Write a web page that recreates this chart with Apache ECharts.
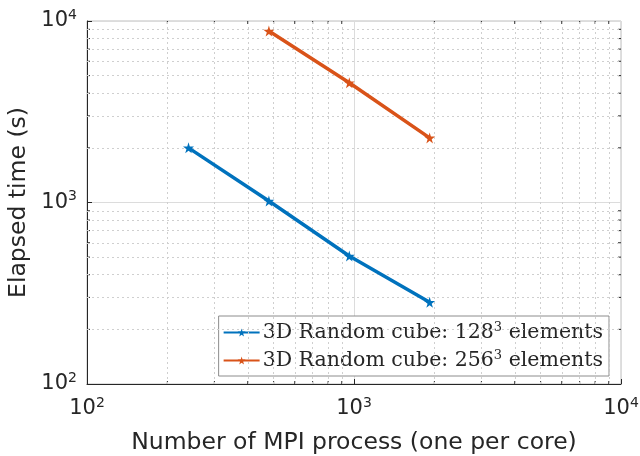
<!DOCTYPE html>
<html>
<head>
<meta charset="utf-8">
<script src="https://cdn.jsdelivr.net/npm/echarts@6/dist/echarts.min.js"></script>
<style>
  html, body { margin: 0; padding: 0; background: #fff; }
  #chart { width: 640px; height: 456px; }
</style>
</head>
<body>
<div id="chart"></div>
<script>
// MPI process counts and elapsed times (s)
const procs128 = [240, 480, 960, 1920];
const time128 = [2000, 1020, 507, 282];
const procs256 = [480, 960, 1920];
const time256 = [8800, 4570, 2270];

const seriesNames = ['3D Random cube: 128³ elements', '3D Random cube: 256³ elements'];
const seriesSizes = ['128', '256'];

// Minor grid positions (2..9 within each decade)
const minorX = [200, 300, 400, 500, 600, 700, 800, 900, 2000, 3000, 4000, 5000, 6000, 7000, 8000, 9000];
const minorY = [200, 300, 400, 500, 600, 700, 800, 900, 2000, 3000, 4000, 5000, 6000, 7000, 8000, 9000];

const AXIS_MIN = 100;
const AXIS_MAX = 10000;

const BLUE = '#0072BD';
const ORANGE = '#D95319';
const TEXT = '#262626';

const star = 'path://M50,0 L61,35 L98,35 L68,57 L79,91 L50,70 L21,91 L32,57 L2,35 L39,35 Z';

function powLabel(v) {
  const e = Math.round(Math.log10(v));
  return '{b|10}{s|' + e + '}';
}
const powRich = {
  b: { fontSize: 21, color: TEXT, fontFamily: 'DejaVu Sans' },
  s: { fontSize: 14, color: TEXT, fontFamily: 'DejaVu Sans', padding: [0, 0, 12, 0] }
};

// Short inward tick marks at the minor positions, on all four box edges
function minorTickItem(isX) {
  return function (params, api) {
    const v = api.value(0);
    const len = 3;
    const style = { stroke: TEXT, lineWidth: 1 };
    if (isX) {
      const b = api.coord([v, AXIS_MIN]);
      const t = api.coord([v, AXIS_MAX]);
      return { type: 'group', children: [
        { type: 'line', shape: { x1: b[0], y1: b[1], x2: b[0], y2: b[1] - len }, style },
        { type: 'line', shape: { x1: t[0], y1: t[1], x2: t[0], y2: t[1] + len }, style }
      ] };
    }
    const l = api.coord([AXIS_MIN, v]);
    const r = api.coord([AXIS_MAX, v]);
    return { type: 'group', children: [
      { type: 'line', shape: { x1: l[0], y1: l[1], x2: l[0] + len, y2: l[1] }, style },
      { type: 'line', shape: { x1: r[0], y1: r[1], x2: r[0] - len, y2: r[1] }, style }
    ] };
  };
}

const chart = echarts.init(document.getElementById('chart'));
chart.setOption({
  animation: false,
  backgroundColor: '#fff',
  grid: {
    left: 87, right: 19, top: 21, bottom: 72,
    outerBoundsMode: 'none',
    containLabel: false,
    show: true, borderColor: '#bfbfbf', borderWidth: 1
  },
  xAxis: {
    type: 'log', logBase: 10, min: AXIS_MIN, max: AXIS_MAX,
    name: 'Number of MPI process (one per core)',
    nameLocation: 'middle', nameGap: 47,
    nameTextStyle: { fontSize: 23.5, color: TEXT, fontFamily: 'DejaVu Sans' },
    axisLine: { lineStyle: { color: TEXT, width: 1 } },
    axisTick: { inside: true, length: 5, lineStyle: { color: TEXT } },
    axisLabel: { formatter: powLabel, rich: powRich, margin: 12 },
    splitLine: { show: true, lineStyle: { color: '#dcdcdc', width: 1 } }
  },
  yAxis: {
    type: 'log', logBase: 10, min: AXIS_MIN, max: AXIS_MAX,
    name: 'Elapsed time (s)',
    nameLocation: 'middle', nameGap: 42,
    nameTextStyle: { fontSize: 23.5, color: TEXT, fontFamily: 'DejaVu Sans' },
    axisLine: { show: true, lineStyle: { color: TEXT, width: 1 } },
    axisTick: { show: true, inside: true, length: 5, lineStyle: { color: TEXT } },
    axisLabel: { formatter: powLabel, rich: powRich, margin: 10 },
    splitLine: { show: true, lineStyle: { color: '#dcdcdc', width: 1 } }
  },
  legend: {
    orient: 'vertical',
    right: 31, top: 316,
    padding: [5, 6, 5, 4],
    itemGap: 6,
    itemWidth: 36, itemHeight: 10,
    backgroundColor: '#fff',
    borderColor: '#8c8c8c', borderWidth: 1, borderRadius: 0,
    data: seriesNames,
    formatter: function (name) {
      const i = seriesNames.indexOf(name);
      return '{t|3D Random cube: ' + seriesSizes[i] + '}{s|3}{t| elements}';
    },
    textStyle: {
      padding: [0, 0, 0, -2],
      rich: {
        t: { fontSize: 20.5, color: TEXT, fontFamily: 'DejaVu Serif', lineHeight: 24 },
        s: { fontSize: 13, color: TEXT, fontFamily: 'DejaVu Serif', padding: [0, 0, 10, 0] }
      }
    }
  },
  series: [
    {
      name: '',
      type: 'line',
      data: [],
      silent: true,
      markLine: {
        silent: true, symbol: 'none', label: { show: false },
        lineStyle: { color: '#cfcfcf', type: [2, 3], width: 1 },
        data: minorX.map(v => ({ xAxis: v })).concat(minorY.map(v => ({ yAxis: v })))
      }
    },
    {
      name: '',
      type: 'custom',
      silent: true,
      data: minorX.map(v => [v]),
      renderItem: minorTickItem(true),
      z: 3
    },
    {
      name: '',
      type: 'custom',
      silent: true,
      data: minorY.map(v => [v]),
      renderItem: minorTickItem(false),
      z: 3
    },
    {
      name: seriesNames[0],
      type: 'line',
      data: procs128.map((p, i) => [p, time128[i]]),
      symbol: star, symbolSize: 11,
      lineStyle: { color: BLUE, width: 3.5 },
      itemStyle: { color: BLUE },
      z: 5
    },
    {
      name: seriesNames[1],
      type: 'line',
      data: procs256.map((p, i) => [p, time256[i]]),
      symbol: star, symbolSize: 11,
      lineStyle: { color: ORANGE, width: 3.5 },
      itemStyle: { color: ORANGE },
      z: 5
    }
  ]
});
</script>
</body>
</html>
